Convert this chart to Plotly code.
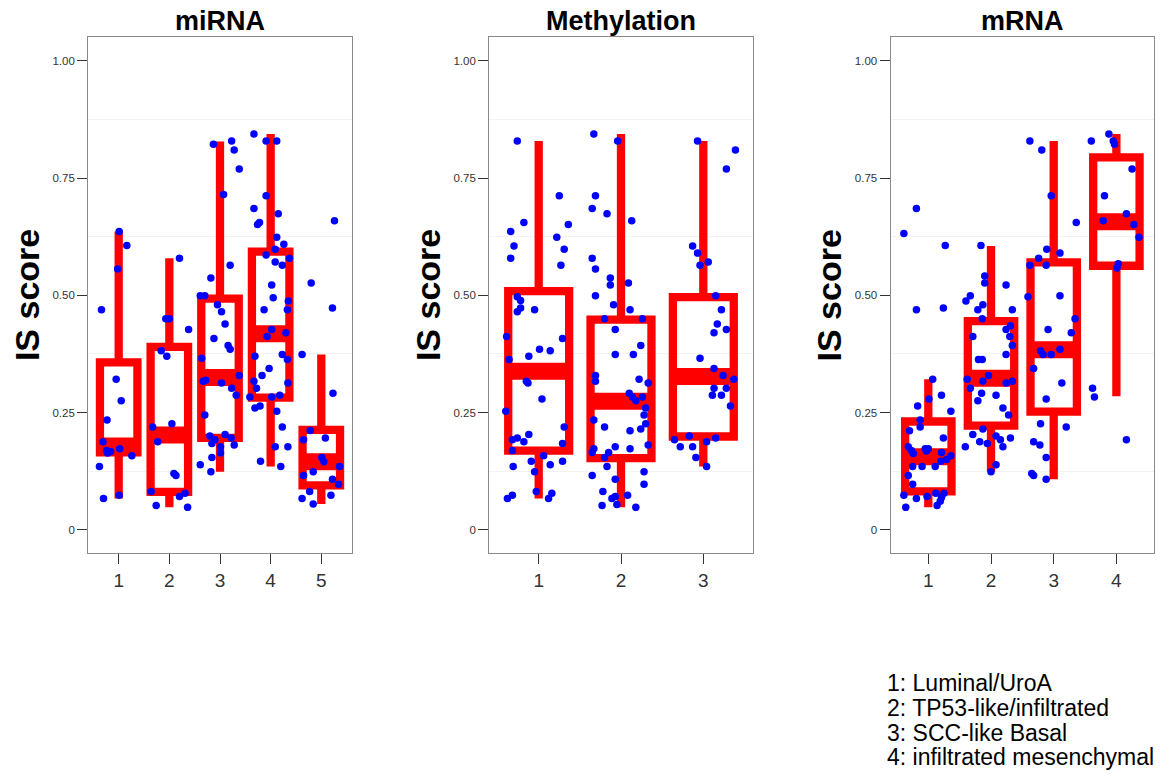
import plotly.graph_objects as go

# ---------------------------------------------------------------- data
# Box statistics per subtype (whisker ends, quartiles, median) for each platform
MIRNA_GROUPS = [1, 2, 3, 4, 5]
MIRNA_LOW = [0.067, 0.048, 0.124, 0.135, 0.055]
MIRNA_Q1 = [0.165, 0.081, 0.196, 0.282, 0.095]
MIRNA_MED = [0.179, 0.202, 0.325, 0.418, 0.145]
MIRNA_Q3 = [0.357, 0.390, 0.493, 0.593, 0.213]
MIRNA_HIGH = [0.636, 0.579, 0.828, 0.844, 0.374]

METH_GROUPS = [1, 2, 3]
METH_LOW = [0.067, 0.048, 0.135]
METH_Q1 = [0.169, 0.153, 0.199]
METH_MED = [0.338, 0.274, 0.327]
METH_Q3 = [0.509, 0.448, 0.496]
METH_HIGH = [0.829, 0.844, 0.829]

MRNA_GROUPS = [1, 2, 3, 4]
MRNA_LOW = [0.048, 0.124, 0.108, 0.285]
MRNA_Q1 = [0.082, 0.222, 0.252, 0.563]
MRNA_MED = [0.156, 0.323, 0.384, 0.657]
MRNA_Q3 = [0.231, 0.445, 0.570, 0.794]
MRNA_HIGH = [0.321, 0.605, 0.829, 0.844]

# Individual samples: subtype, horizontal jitter, IS score
MIRNA_PT_GROUP = [1] * 16 + [2] * 16 + [3] * 34 + [4] * 42 + [5] * 19
MIRNA_PT_JITTER = [
    -0.34, 0.01, -0.02, 0.16, -0.05, 0.05, -0.23, -0.31, -0.24, -0.16, -0.22, 0.02, 0.26, -0.38, -0.30, 0.01,
    0.20, -0.07, 0.00, -0.16, -0.05, 0.38, -0.33, -0.23, 0.05, 0.09, 0.13, -0.36, -0.26, 0.20, 0.31, 0.36,
    -0.13, 0.23, 0.28, 0.38, 0.07, -0.18, 0.20, -0.39, -0.30, -0.05, 0.03, 0.10, -0.12, 0.16, 0.20, -0.36,
    -0.33, -0.28, 0.03, 0.38, 0.23, 0.32, -0.30, -0.20, -0.10, -0.16, 0.10, 0.22, 0.01, 0.01, 0.28, -0.39,
    -0.16, -0.18,
    -0.33, -0.09, 0.12, -0.09, -0.33, -0.26, -0.22, 0.15, 0.12, 0.26, -0.09, 0.09, 0.09, 0.23, 0.37, 0.02,
    0.05, -0.13, 0.35, 0.33, 0.02, -0.07, 0.30, -0.31, 0.23, 0.33, -0.03, -0.17, -0.33, -0.28, 0.34, -0.41,
    -0.31, -0.21, 0.02, 0.18, 0.12, 0.23, -0.20, 0.09, 0.20, 0.34,
    0.26, -0.20, 0.22, -0.38, 0.23, 0.08, -0.35, -0.22, 0.01, 0.05, -0.35, -0.16, 0.36, 0.22, 0.34, -0.23,
    -0.38, -0.16, 0.19,
]
MIRNA_PT_SCORE = [
    0.469, 0.636, 0.556, 0.606, 0.321, 0.275, 0.234, 0.188, 0.169, 0.167, 0.164, 0.173, 0.158, 0.135, 0.067, 0.074,
    0.579, 0.450, 0.450, 0.382, 0.370, 0.427, 0.219, 0.188, 0.226, 0.120, 0.116, 0.082, 0.052, 0.071, 0.078, 0.048,
    0.822, 0.829, 0.810, 0.769, 0.715, 0.537, 0.564, 0.499, 0.499, 0.480, 0.465, 0.439, 0.408, 0.393, 0.385, 0.366,
    0.317, 0.319, 0.313, 0.329, 0.302, 0.287, 0.245, 0.200, 0.192, 0.184, 0.203, 0.196, 0.177, 0.164, 0.181, 0.139,
    0.154, 0.124,
    0.844, 0.829, 0.829, 0.712, 0.685, 0.651, 0.655, 0.674, 0.624, 0.609, 0.586, 0.598, 0.571, 0.564, 0.579, 0.522,
    0.495, 0.469, 0.488, 0.469, 0.427, 0.412, 0.420, 0.370, 0.374, 0.363, 0.344, 0.329, 0.317, 0.302, 0.313, 0.283,
    0.260, 0.264, 0.283, 0.287, 0.253, 0.219, 0.146, 0.177, 0.135, 0.177,
    0.659, 0.526, 0.473, 0.374, 0.291, 0.196, 0.192, 0.212, 0.154, 0.145, 0.116, 0.124, 0.135, 0.108, 0.097, 0.082,
    0.067, 0.055, 0.074,
]

METH_PT_GROUP = [1] * 43 + [2] * 54 + [3] * 29
METH_PT_JITTER = [
    -0.26, -0.34, -0.30, -0.18, -0.34, 0.25, 0.22, 0.36, 0.31, 0.27, -0.26, -0.22, -0.26, -0.22, -0.05, -0.39,
    -0.36, -0.12, 0.01, 0.14, 0.29, -0.15, -0.13, 0.04, -0.40, -0.32, -0.26, -0.18, -0.12, -0.32, 0.31, 0.29,
    -0.31, -0.09, -0.05, 0.06, 0.14, 0.29, -0.38, -0.32, -0.03, 0.12, 0.16,
    -0.33, -0.04, -0.31, -0.35, -0.17, 0.13, -0.35, -0.31, -0.13, -0.13, 0.09, -0.31, -0.09, 0.11, -0.20, 0.26,
    -0.07, -0.07, 0.15, 0.24, -0.31, -0.31, 0.22, 0.33, 0.10, 0.14, 0.18, 0.26, 0.30, 0.28, 0.30, 0.24,
    -0.33, -0.20, 0.11, -0.35, -0.33, -0.20, -0.15, -0.07, 0.11, 0.33, -0.17, -0.35, -0.07, -0.22, -0.11, -0.07,
    -0.05, 0.08, -0.23, 0.18, 0.28, 0.28,
    -0.07, 0.28, 0.39, -0.13, -0.07, -0.04, 0.06, 0.15, 0.22, 0.17, 0.13, 0.28, -0.04, 0.13, 0.24, 0.37,
    0.13, 0.28, 0.11, 0.22, 0.33, -0.35, -0.28, -0.17, -0.13, -0.09, 0.04, 0.15, 0.04,
]
METH_PT_SCORE = [
    0.829, 0.636, 0.605, 0.655, 0.579, 0.712, 0.624, 0.651, 0.598, 0.564, 0.497, 0.489, 0.465, 0.473, 0.469, 0.412,
    0.363, 0.370, 0.385, 0.382, 0.408, 0.317, 0.313, 0.279, 0.253, 0.192, 0.196, 0.188, 0.203, 0.169, 0.219, 0.184,
    0.135, 0.146, 0.124, 0.158, 0.139, 0.146, 0.067, 0.074, 0.082, 0.067, 0.078,
    0.844, 0.829, 0.712, 0.685, 0.674, 0.659, 0.579, 0.556, 0.537, 0.522, 0.526, 0.499, 0.480, 0.469, 0.450, 0.450,
    0.427, 0.374, 0.374, 0.393, 0.329, 0.317, 0.321, 0.313, 0.291, 0.283, 0.275, 0.283, 0.260, 0.245, 0.226, 0.215,
    0.234, 0.219, 0.211, 0.165, 0.173, 0.154, 0.165, 0.177, 0.173, 0.181, 0.135, 0.116, 0.108, 0.082, 0.067, 0.071,
    0.054, 0.074, 0.052, 0.048, 0.124, 0.097,
    0.829, 0.769, 0.810, 0.605, 0.590, 0.564, 0.571, 0.499, 0.469, 0.439, 0.420, 0.427, 0.366, 0.344, 0.329, 0.321,
    0.302, 0.302, 0.287, 0.287, 0.264, 0.192, 0.177, 0.200, 0.177, 0.154, 0.188, 0.196, 0.135,
]

MRNA_PT_GROUP = [1] * 38 + [2] * 40 + [3] * 29 + [4] * 15
MRNA_PT_JITTER = [
    -0.39, -0.19, 0.27, -0.19, 0.24, 0.07, 0.21, 0.01, -0.17, 0.36, -0.13, -0.30, -0.13, 0.24, -0.32, -0.27,
    -0.24, -0.05, 0.00, -0.03, 0.21, 0.36, 0.29, -0.25, -0.10, 0.11, 0.20, -0.32, -0.25, -0.39, -0.19, -0.02,
    0.12, 0.25, 0.21, 0.19, 0.14, -0.36,
    -0.16, -0.10, -0.10, 0.24, -0.40, -0.33, -0.13, -0.21, 0.34, -0.14, 0.24, 0.31, 0.30, 0.34, -0.29, 0.24,
    -0.20, -0.14, -0.38, -0.33, -0.04, -0.13, 0.24, 0.34, -0.15, 0.08, -0.21, 0.19, 0.28, -0.13, -0.29, 0.08,
    0.15, 0.31, -0.18, -0.06, -0.41, 0.19, 0.08, 0.00,
    -0.38, -0.19, -0.04, 0.36, 0.10, -0.11, -0.24, -0.38, -0.12, -0.41, 0.10, 0.34, -0.09, 0.28, -0.21, -0.17,
    -0.04, 0.10, -0.32, 0.13, -0.12, -0.21, 0.20, -0.32, -0.22, -0.35, -0.32, -0.12, -0.12,
    -0.12, -0.40, -0.05, -0.03, 0.25, -0.19, 0.16, -0.21, 0.28, 0.36, 0.03, 0.01, -0.38, -0.35, 0.16,
]
MRNA_PT_SCORE = [
    0.632, 0.685, 0.606, 0.469, 0.473, 0.321, 0.287, 0.279, 0.264, 0.253, 0.234, 0.211, 0.219, 0.196, 0.177, 0.169,
    0.163, 0.173, 0.173, 0.168, 0.165, 0.158, 0.150, 0.135, 0.135, 0.135, 0.146, 0.116, 0.097, 0.074, 0.067, 0.071,
    0.078, 0.078, 0.069, 0.061, 0.052, 0.048,
    0.606, 0.541, 0.526, 0.522, 0.488, 0.499, 0.480, 0.469, 0.469, 0.450, 0.427, 0.435, 0.412, 0.393, 0.412, 0.374,
    0.363, 0.363, 0.321, 0.302, 0.329, 0.317, 0.313, 0.317, 0.291, 0.287, 0.275, 0.260, 0.245, 0.215, 0.203, 0.200,
    0.192, 0.196, 0.188, 0.184, 0.177, 0.177, 0.139, 0.124,
    0.829, 0.810, 0.712, 0.655, 0.590, 0.598, 0.579, 0.564, 0.564, 0.497, 0.499, 0.450, 0.427, 0.420, 0.382, 0.374,
    0.374, 0.385, 0.344, 0.313, 0.279, 0.226, 0.219, 0.188, 0.181, 0.120, 0.116, 0.154, 0.108,
    0.844, 0.829, 0.829, 0.822, 0.769, 0.712, 0.674, 0.659, 0.651, 0.624, 0.567, 0.558, 0.302, 0.283, 0.192,
]

PANEL_TITLES = ["miRNA", "Methylation", "mRNA"]
Y_TICK_VALUES = [0, 0.25, 0.5, 0.75, 1.0]
Y_TICK_TEXT = ["0", "0.25", "0.50", "0.75", "1.00"]
SUBTYPE_KEY = [
    "1: Luminal/UroA",
    "2: TP53-like/infiltrated",
    "3: SCC-like Basal",
    "4: infiltrated mesenchymal",
]

# ---------------------------------------------------------------- style
W, H = 1164, 780
FONT = "Liberation Sans, Arial, Helvetica, sans-serif"
RED = "#ff0000"
BLUE = "#0000ff"
BOX_WIDTH = 0.74
BOX_LINE = 8.3
MEDIAN_LINE = 17
X_DOMAINS = [(88.3, 351.7), (489.3, 752.7), (890.7, 1154.0)]
Y_DOMAIN_PX = (37.3, 553.3)

panels = [
    (MIRNA_GROUPS, MIRNA_LOW, MIRNA_Q1, MIRNA_MED, MIRNA_Q3, MIRNA_HIGH,
     MIRNA_PT_GROUP, MIRNA_PT_JITTER, MIRNA_PT_SCORE),
    (METH_GROUPS, METH_LOW, METH_Q1, METH_MED, METH_Q3, METH_HIGH,
     METH_PT_GROUP, METH_PT_JITTER, METH_PT_SCORE),
    (MRNA_GROUPS, MRNA_LOW, MRNA_Q1, MRNA_MED, MRNA_Q3, MRNA_HIGH,
     MRNA_PT_GROUP, MRNA_PT_JITTER, MRNA_PT_SCORE),
]

fig = go.Figure()
y_dom = [1 - Y_DOMAIN_PX[1] / H, 1 - Y_DOMAIN_PX[0] / H]
annotations = []

for i, (groups, low, q1, med, q3, high, pg, pj, ps) in enumerate(panels):
    n = i + 1
    xa = "x" if n == 1 else f"x{n}"
    ya = "y" if n == 1 else f"y{n}"

    fig.add_trace(go.Box(
        x=groups, q1=q1, median=med, q3=q3, lowerfence=low, upperfence=high,
        width=BOX_WIDTH, whiskerwidth=0, boxpoints=False,
        line=dict(color=RED, width=BOX_LINE), fillcolor="rgba(0,0,0,0)",
        hoverinfo="skip", xaxis=xa, yaxis=ya,
    ))

    # thicker median bar across each box
    mx, my = [], []
    for g, m in zip(groups, med):
        mx += [g - BOX_WIDTH / 2, g + BOX_WIDTH / 2, None]
        my += [m, m, None]
    fig.add_trace(go.Scatter(
        x=mx, y=my, mode="lines", line=dict(color=RED, width=MEDIAN_LINE),
        hoverinfo="skip", xaxis=xa, yaxis=ya,
    ))

    # jittered samples
    fig.add_trace(go.Scatter(
        x=[g + j for g, j in zip(pg, pj)], y=ps, mode="markers",
        marker=dict(color=BLUE, size=7.5, line=dict(width=0)),
        xaxis=xa, yaxis=ya,
    ))

    x0, x1 = X_DOMAINS[i]
    axis_common = dict(
        showline=True, mirror=True, linecolor="#8a8a8a", linewidth=1.3,
        ticks="outside", ticklen=10, tickwidth=1.3, tickcolor="#333333",
        zeroline=False, showgrid=False,
    )
    fig.update_layout(**{
        ("xaxis" if n == 1 else f"xaxis{n}"): dict(
            domain=[x0 / W, x1 / W], anchor=ya,
            range=[0.4, len(groups) + 0.6],
            tickvals=groups, ticktext=[str(g) for g in groups],
            tickfont=dict(family=FONT, size=19, color="#333333"),
            **axis_common,
        ),
        ("yaxis" if n == 1 else f"yaxis{n}"): dict(
            domain=y_dom, anchor=xa,
            range=[-0.05, 1.05],
            tickvals=Y_TICK_VALUES, ticktext=Y_TICK_TEXT,
            tickfont=dict(family=FONT, size=11.5, color="#333333"),
            minor=dict(tickvals=[0.125, 0.375, 0.625, 0.875], showgrid=True,
                       gridcolor="#f3f3f3", gridwidth=1),
            **axis_common,
        ),
    })

    # panel title
    annotations.append(dict(
        text=f"<b>{PANEL_TITLES[i]}</b>", xref="paper", yref="paper",
        x=(x0 + x1) / 2 / W, y=1 - 21 / H, xanchor="center", yanchor="middle",
        showarrow=False, font=dict(family=FONT, size=27, color="#000000"),
    ))
    # y-axis title
    annotations.append(dict(
        text="<b>IS score</b>", xref="paper", yref="paper",
        x=(x0 - 61.5) / W, y=1 - 295.3 / H, xanchor="center", yanchor="middle",
        textangle=-90, showarrow=False,
        font=dict(family=FONT, size=34, color="#000000"),
    ))

# subtype key
for k, line in enumerate(SUBTYPE_KEY):
    annotations.append(dict(
        text=line, xref="paper", yref="paper",
        x=885 / W, y=1 - (683.3 + 24.7 * k) / H, xanchor="left", yanchor="middle",
        showarrow=False, font=dict(family=FONT, size=23, color="#000000"),
    ))

fig.update_layout(
    width=W, height=H, margin=dict(l=0, r=0, t=0, b=0),
    paper_bgcolor="white", plot_bgcolor="white",
    showlegend=False, annotations=annotations,
)

fig.write_html("out.html")
